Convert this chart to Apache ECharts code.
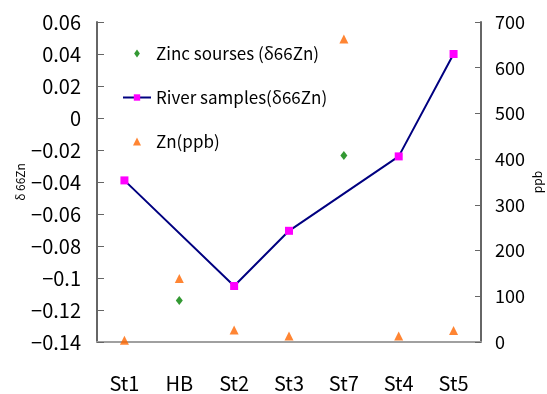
<!DOCTYPE html>
<html>
<head>
<meta charset="utf-8">
<script src="https://cdn.jsdelivr.net/npm/echarts@6/dist/echarts.min.js"></script>
<style>
html,body{margin:0;padding:0;background:#fff;}
#main{width:547px;height:394px;}
</style>
</head>
<body>
<div id="main"></div>
<script>
const categories = ['St1', 'HB', 'St2', 'St3', 'St7', 'St4', 'St5'];
// δ66Zn of zinc sources (left axis)
const zincSources = [null, -0.114, null, null, -0.0235, null, null];
// δ66Zn of river samples (left axis)
const riverSamples = [-0.039, null, -0.105, -0.0705, null, -0.024, 0.04];
// Zn concentration, ppb (right axis)
const znPpb = [4, 139, 26, 13, 663, 13, 25];

const font = 'Noto Sans CJK JP';
const minus = function (v) { return String(v).replace('-', '\u2212'); };
// path icons so the legend keeps their shape
const diamondIcon = 'path://M0,-5L3.6,0L0,5L-3.6,0Z';
const triangleIcon = 'path://M0,-4L4,4L-4,4Z';

const myChart = echarts.init(document.getElementById('main'));
const option = {
    animation: false,
    textStyle: { fontFamily: font },
    grid: { left: 97, right: 66, top: 22, bottom: 52, outerBoundsMode: 'none', containLabel: false },
    legend: {
        orient: 'vertical',
        left: 117,
        top: 40,
        itemWidth: 28,
        itemHeight: 8,
        itemGap: 27,
        symbolKeepAspect: true,
        textStyle: { fontFamily: font, fontSize: 17, color: '#000' },
        data: [
            { name: 'Zinc sourses (δ66Zn)', icon: diamondIcon },
            { name: 'River samples(δ66Zn)' },
            { name: 'Zn(ppb)', icon: triangleIcon }
        ]
    },
    xAxis: {
        type: 'category',
        data: categories,
        axisLine: { onZero: false, lineStyle: { color: '#a0a0a0', width: 2 } },
        axisTick: { show: false },
        axisLabel: { fontFamily: font, fontSize: 20, color: '#000', margin: 31 }
    },
    yAxis: [
        {
            type: 'value',
            min: -0.14,
            max: 0.06,
            interval: 0.02,
            name: 'δ 66Zn',
            nameLocation: 'middle',
            nameGap: 71,
            nameMoveOverlap: false,
            nameTextStyle: { fontFamily: font, fontSize: 12, color: '#000' },
            splitLine: { show: false },
            axisLine: { show: true, lineStyle: { color: '#666', width: 2 } },
            axisTick: { show: true, inside: true, length: 7, lineStyle: { color: '#666' } },
            axisLabel: { fontFamily: font, fontSize: 20, color: '#000', margin: 16, formatter: minus }
        },
        {
            type: 'value',
            min: 0,
            max: 700,
            interval: 100,
            position: 'right',
            name: 'ppb',
            nameLocation: 'middle',
            nameGap: 50,
            nameMoveOverlap: false,
            nameTextStyle: { fontFamily: font, fontSize: 12, color: '#000' },
            splitLine: { show: false },
            axisLine: { show: true, lineStyle: { color: '#666', width: 2 } },
            axisTick: { show: true, inside: true, length: 6, lineStyle: { color: '#666' } },
            axisLabel: { fontFamily: font, fontSize: 18, color: '#000', margin: 14 }
        }
    ],
    series: [
        {
            name: 'Zinc sourses (δ66Zn)',
            type: 'scatter',
            yAxisIndex: 0,
            data: zincSources,
            symbol: 'diamond',
            symbolSize: [7, 9],
            itemStyle: { color: '#008000' }
        },
        {
            name: 'River samples(δ66Zn)',
            type: 'line',
            yAxisIndex: 0,
            data: riverSamples,
            connectNulls: true,
            symbol: 'rect',
            symbolSize: 8,
            showAllSymbol: true,
            lineStyle: { color: '#000080', width: 2 },
            itemStyle: { color: '#ff00ff', borderWidth: 0 }
        },
        {
            name: 'Zn(ppb)',
            type: 'scatter',
            yAxisIndex: 1,
            data: znPpb,
            symbol: 'triangle',
            symbolSize: [9, 9],
            itemStyle: { color: '#ff6600' }
        }
    ]
};
myChart.setOption(option);
</script>
</body>
</html>
